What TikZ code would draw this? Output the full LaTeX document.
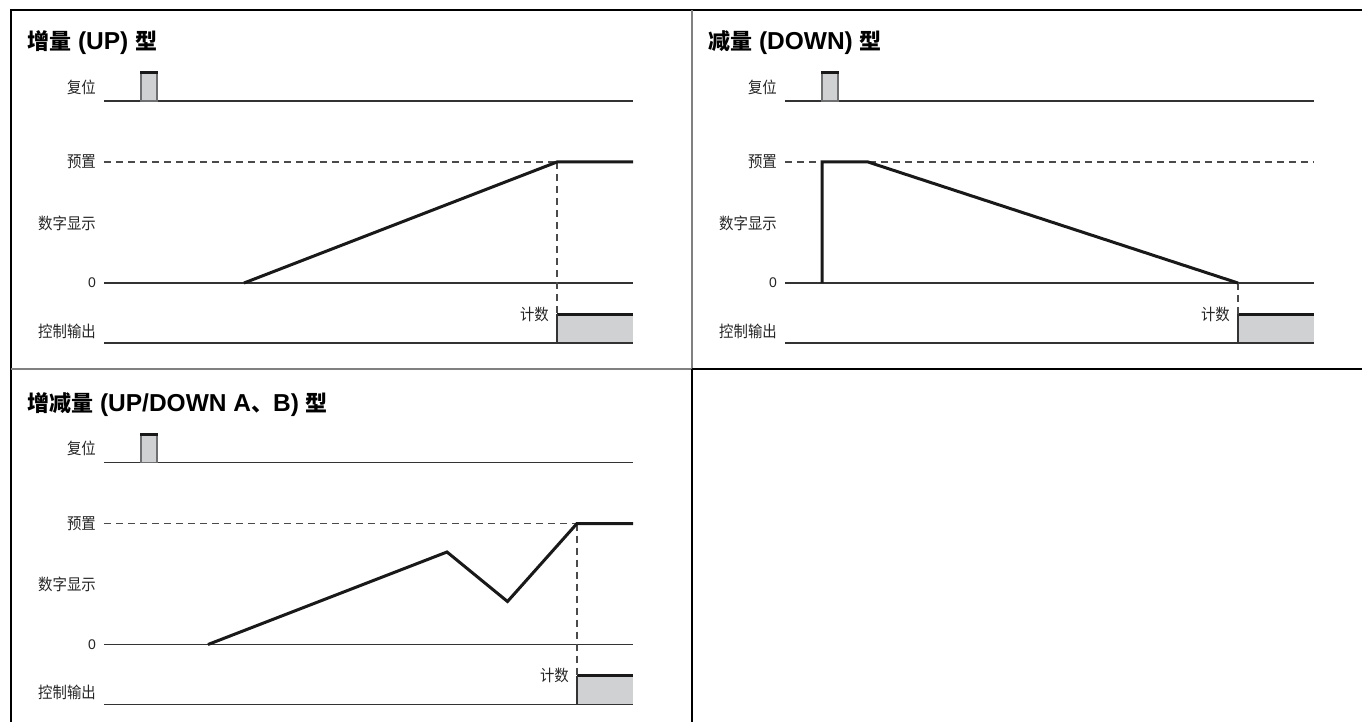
\documentclass[tikz,border=0pt]{standalone}
\usepackage{fontspec}
\setmainfont{Liberation Sans}
\newfontfamily\cjkt{Noto Sans CJK SC}
\newfontfamily\lblfont{Noto Sans CJK SC}[FakeStretch=0.9]
\definecolor{fillg}{HTML}{D0D1D3}
\definecolor{edgeg}{HTML}{6E6F71}
\definecolor{baseg}{HTML}{333333}
\definecolor{dashg}{HTML}{4A4A4A}
\tikzset{
  lbl/.style={anchor=east, inner sep=0pt, font=\lblfont\fontsize{16}{18}\selectfont, text=black!85},
  numlbl/.style={anchor=east, inner sep=0pt, font=\fontsize{14}{16}\selectfont, text=black!85},
  ttl/.style={anchor=west, inner sep=0pt, font=\fontsize{24.5}{28}\selectfont\bfseries},
  baseln/.style={draw=baseg, line width=1.7pt},
  dashln/.style={draw=dashg, line width=1.1pt, dash pattern=on 7pt off 5pt},
  trace/.style={draw=black!90, line width=3pt, line join=miter},
  pulsebox/.style={fill=fillg, draw=edgeg, line width=1.3pt},
  topcap/.style={draw=black!90, line width=3pt},
  frameln/.style={draw=black, line width=2pt},
  divgray/.style={draw=black!50, line width=1.5pt},
}
\newcommand\cj[1]{{\cjkt\fontsize{22}{26}\selectfont #1}}
\newcommand\tpanel[4]{%
  % #1 prefix, #2 xshift, #3 yshift, #4 box/step x (local)
  \begin{scope}[shift={(#2,#3)}]
    \node[lbl] (#1lreset) at (96,87) {复位};
    \node[lbl] (#1lpre) at (96,162) {预置};
    \node[lbl] (#1ldisp) at (96,223) {数字显示};
    \node[numlbl] (#1lzero) at (96,283) {0};
    \node[lbl] (#1lout) at (96,331) {控制输出};
    \coordinate (#1r0) at (104,101); \coordinate (#1r1) at (633,101);
    \coordinate (#1z0) at (104,283); \coordinate (#1z1) at (633,283);
    \coordinate (#1b0) at (104,343); \coordinate (#1b1) at (633,343);
    \coordinate (#1p0) at (104,162);
    \fill[fillg] (#4,314) rectangle (633,343);
    \draw[baseln] (#1r0) -- (#1r1);
    \draw[baseln] (#1z0) -- (#1z1);
    \draw[baseln] (#1b0) -- (#1b1);
    \draw[pulsebox] (141,101) rectangle (157,73);
    \draw[topcap] (140.4,73) -- (157.6,73);
    \coordinate (#1c0) at (#4,314); \coordinate (#1c1) at (633,314);
    \draw[topcap] (#1c0) -- (#1c1);
    \draw[draw=baseg, line width=1.2pt] (#4,314) -- (#4,343);
    \node[lbl] (#1lcnt) at ({#4-8},314) {计数};
  \end{scope}}
\begin{document}
\begin{tikzpicture}[x=1pt,y=-1pt]
  \useasboundingbox (0,0) rectangle (1362,722);
  \fill[white] (0,0) rectangle (1362,722);
  % frame
  \draw[frameln] (10,10) -- (1362,10);
  \draw[frameln] (11,10) -- (11,722);
  \draw[divgray] (692,10) -- (692,369) -- (11,369);
  \draw[frameln] (692,369) -- (692,722);
  \draw[frameln] (692,369) -- (1362,369);
  % titles
  \node[ttl] (t1) at (27,43) {\cj{增量} (UP) \cj{型}};
  \node[ttl] (t2) at (708,43) {\cj{减量} (DOWN) \cj{型}};
  \node[ttl] (t3) at (27,404.5) {\cj{增减量} (UP/DOWN A\cj{、}B) \cj{型}};
  % panels
  \tpanel{a}{0}{0}{557}
  \tpanel{b}{681}{0}{557}
  \tpanel{c}{0}{361.5}{577}
  % panel 1 traces
  \coordinate (aq0) at (557,162); \coordinate (aq1) at (557,314);
  \draw[dashln] (ap0) -- (aq0);
  \draw[dashln] (aq0) -- (aq1);
  \coordinate (as0) at (244,283); \coordinate (as1) at (633,162);
  \draw[trace] (as0) -- (aq0) -- (as1);
  % panel 2 traces
  \coordinate (bq0) at (785,162); \coordinate (bq1) at (1314,162);
  \draw[dashln] (bq0) -- (bq1);
  \coordinate (bs0) at (822,283); \coordinate (bs1) at (822,162);
  \coordinate (bs2) at (868,162); \coordinate (bs3) at (1238,283);
  \coordinate (bs4) at (1238,314);
  \draw[dashln] (bs3) -- (bs4);
  \draw[trace] (bs0) -- (bs1) -- (bs2) -- (bs3);
  % panel 3 traces
  \coordinate (cq0) at (577,523.5); \coordinate (cq1) at (577,675.5);
  \draw[dashln] (cp0) -- (cq0);
  \draw[dashln] (cq0) -- (cq1);
  \coordinate (cs0) at (208,644.5); \coordinate (cs1) at (447,552);
  \coordinate (cs2) at (507.5,601.5); \coordinate (cs3) at (633,523.5);
  \draw[trace] (cs0) -- (cs1) -- (cs2) -- (cq0) -- (cs3);
\end{tikzpicture}
\end{document}
